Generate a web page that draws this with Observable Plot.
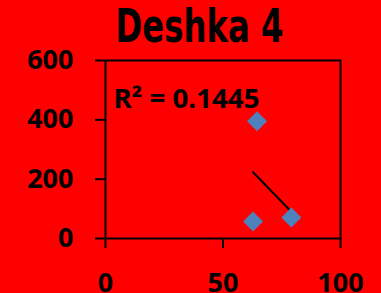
<!DOCTYPE html>
<html>
<head>
<meta charset="utf-8">
<script src="https://cdn.jsdelivr.net/npm/d3@7"></script>
<script src="https://cdn.jsdelivr.net/npm/@observablehq/plot@0.6"></script>
<style>
  html, body { margin: 0; padding: 0; background: #ff0000; }
  #chart svg { display: block; }
</style>
</head>
<body>
<div id="chart"></div>
<script>
const title = "Deshka 4";
const rSquaredLabel = "R² = 0.1445";
const xValues = [62.8, 79.1, 64.5];
const yValues = [57, 71, 395];
const xTicks = [0, 50, 100];
const yTicks = [0, 200, 400, 600];

const data = xValues.map((x, i) => ({x, y: yValues[i]}));

const chart = Plot.plot({
  width: 381,
  height: 293,
  marginLeft: 105,
  marginRight: 41,
  marginTop: 60,
  marginBottom: 55,
  style: {
    background: "#ff0000",
    color: "black",
    fontFamily: "'Open Sans', sans-serif",
    fontWeight: "bold",
    fontSize: "26px"
  },
  x: {domain: [0, 100]},
  y: {domain: [0, 600]},
  marks: [
    Plot.frame({stroke: "black", strokeWidth: 2}),
    Plot.axisY({ticks: yTicks, tickSize: 10, text: null, label: null, strokeWidth: 2}),
    Plot.axisX({ticks: xTicks, tickSize: 10, text: null, label: null, strokeWidth: 2}),
    Plot.text(yTicks, {
      y: d => d, text: d => String(d), frameAnchor: "left", dx: -32,
      textAnchor: "end", lineAnchor: "middle", fontSize: 27, fontWeight: "bold", fill: "black"
    }),
    Plot.text(xTicks, {
      x: d => d, text: d => String(d), frameAnchor: "bottom", dy: 34,
      textAnchor: "middle", lineAnchor: "top", fontSize: 27, fontWeight: "bold", fill: "black"
    }),
    Plot.linearRegressionY(data, {x: "x", y: "y", ci: 0, stroke: "black", strokeWidth: 2}),
    Plot.dot(data, {x: "x", y: "y", symbol: "diamond2", r: 9, fill: "#4F81BD", stroke: "none"}),
    Plot.text([rSquaredLabel], {
      text: d => d, frameAnchor: "top-left", dx: 8, dy: 39,
      textAnchor: "start", lineAnchor: "middle", fontSize: 26, fontWeight: "bold",
      fill: "black", className: "r2-label"
    }),
    Plot.text([title], {
      text: d => d, frameAnchor: "top", dx: -23.5, dy: -33,
      textAnchor: "middle", lineAnchor: "middle", fontSize: 46, fontWeight: "bold",
      fontFamily: "'Liberation Sans Narrow', 'DejaVu Sans Condensed', sans-serif",
      fill: "black", className: "chart-title"
    })
  ]
});
// condense title glyphs to match narrow face width
chart.querySelectorAll(".chart-title text").forEach(t => {
  t.setAttribute("textLength", "168");
  t.setAttribute("lengthAdjust", "spacingAndGlyphs");
});
chart.querySelectorAll(".r2-label text").forEach(t => {
  t.setAttribute("textLength", "146");
  t.setAttribute("lengthAdjust", "spacingAndGlyphs");
});
document.getElementById("chart").append(chart);
</script>
</body>
</html>
